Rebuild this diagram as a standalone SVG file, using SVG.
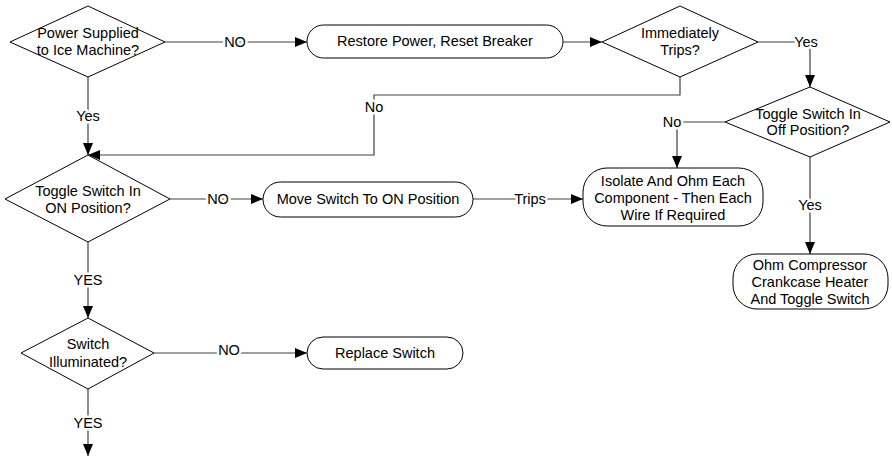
<svg xmlns="http://www.w3.org/2000/svg" width="892" height="459" viewBox="0 0 892 459">
<defs>
<marker id="arr" markerUnits="userSpaceOnUse" markerWidth="13" markerHeight="11" refX="12" refY="5" orient="auto">
<path d="M0,0 L12,5 L0,10 z" fill="#000"/>
</marker>
<style>
.s{fill:#fff;stroke:#000;stroke-width:1}
.t{font-family:"Liberation Sans",Arial,sans-serif;font-size:14.5px;fill:#000;text-anchor:middle}
.c{fill:none;stroke:#404040;stroke-width:1.2}
.a{marker-end:url(#arr)}
.l{font-family:"Liberation Sans",Arial,sans-serif;font-size:14.5px;fill:#000;text-anchor:middle;stroke:#fff;stroke-width:5;paint-order:stroke;stroke-linejoin:round}
</style>
</defs>
<rect width="892" height="459" fill="#fff"/>
<g id="connectors">
<path class="c a" d="M165,42 H307"/>
<path class="c a" d="M563,42 H602"/>
<path class="c a" d="M758,42 H810 V87"/>
<path class="c a" d="M680,77 V95 H374 V155 H88"/>
<path class="c a" d="M88,77 V155"/>
<path class="c a" d="M725,122 H677 V168"/>
<path class="c a" d="M810,157 V254"/>
<path class="c a" d="M170,199 H263"/>
<path class="c a" d="M473,199 H583"/>
<path class="c a" d="M88,242 V318"/>
<path class="c a" d="M154,353 H307"/>
<path class="c a" d="M88,389 V456"/>
<text class="l" x="235" y="47">NO</text>
<text class="l" x="806" y="47">Yes</text>
<text class="l" x="374" y="112">No</text>
<text class="l" x="88" y="121">Yes</text>
<text class="l" x="672" y="127">No</text>
<text class="l" x="810" y="210">Yes</text>
<text class="l" x="218" y="204">NO</text>
<text class="l" x="530" y="204">Trips</text>
<text class="l" x="88" y="285">YES</text>
<text class="l" x="229" y="355">NO</text>
<text class="l" x="88" y="428">YES</text>
</g>
<g id="power">
<path class="s" d="M88,6 L165,42 L88,77 L10,42 Z"/>
<text class="t" x="88" y="38">Power Supplied</text>
<text class="t" x="88" y="55">to Ice Machine?</text>
</g>
<g id="restore">
<rect class="s" x="307" y="25" width="256" height="33" rx="16.5"/>
<text class="t" x="435" y="46">Restore Power, Reset Breaker</text>
</g>
<g id="trips">
<path class="s" d="M680,6 L758,42 L680,77 L602,42 Z"/>
<text class="t" x="680" y="38">Immediately</text>
<text class="t" x="680" y="55">Trips?</text>
</g>
<g id="offpos">
<path class="s" d="M810,87 L890,122 L810,157 L725,122 Z"/>
<text class="t" x="808" y="119">Toggle Switch In</text>
<text class="t" x="808" y="135">Off Position?</text>
</g>
<g id="isolate">
<rect class="s" x="583" y="168" width="180" height="58" rx="24"/>
<text class="t" x="673" y="186">Isolate And Ohm Each</text>
<text class="t" x="673" y="203">Component - Then Each</text>
<text class="t" x="673" y="220">Wire If Required</text>
</g>
<g id="ohm">
<rect class="s" x="733" y="254" width="155" height="55" rx="24"/>
<text class="t" x="810" y="270">Ohm Compressor</text>
<text class="t" x="810" y="287">Crankcase Heater</text>
<text class="t" x="810" y="304">And Toggle Switch</text>
</g>
<g id="onpos">
<path class="s" d="M88,155 L170,199 L88,242 L5,199 Z"/>
<text class="t" x="88" y="196">Toggle Switch In</text>
<text class="t" x="88" y="213">ON Position?</text>
</g>
<g id="move">
<rect class="s" x="263" y="182" width="210" height="35" rx="17.5"/>
<text class="t" x="368" y="204">Move Switch To ON Position</text>
</g>
<g id="illum">
<path class="s" d="M88,318 L154,353 L88,389 L21,353 Z"/>
<text class="t" x="88" y="349">Switch</text>
<text class="t" x="88" y="367">Illuminated?</text>
</g>
<g id="replace">
<rect class="s" x="307" y="337" width="156" height="32" rx="16"/>
<text class="t" x="385" y="358">Replace Switch</text>
</g>
</svg>
